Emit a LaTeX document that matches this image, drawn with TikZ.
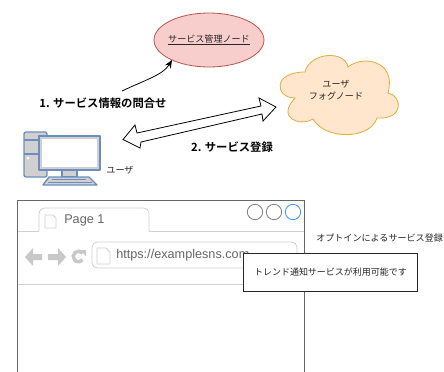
\documentclass[tikz,border=0pt]{standalone}
\usepackage{fontspec}
\usetikzlibrary{shapes.geometric,arrows.meta}
\setmainfont{Noto Sans CJK JP}
\newfontfamily\jpbold{Noto Sans CJK JP Bold}
\newfontfamily\latin{Liberation Sans}
\definecolor{chrome}{HTML}{666666}
\definecolor{lightc}{HTML}{D0D0D0}
\definecolor{iconc}{HTML}{C8C8C8}
\definecolor{pcblue}{HTML}{6C8EBF}
\definecolor{mgrfill}{HTML}{F8CECC}
\definecolor{mgrline}{HTML}{B85450}
\definecolor{cloudfill}{HTML}{FFE6CC}
\definecolor{cloudline}{HTML}{E0AC40}
\tikzset{
  lbl/.style={inner sep=0pt,font=\fontsize{6.8}{9}\selectfont,text=black!85,align=center},
  boldlbl/.style={inner sep=0pt,font=\jpbold\fontsize{8.5}{10}\selectfont,text=black},
  pcpart/.style={draw=pcblue,fill=lightc,line width=1pt,line join=round},
  winbtn/.style={circle,draw=gray,line width=0.6pt,fill=white,minimum size=11.5pt,inner sep=0pt},
  chromeline/.style={draw=lightc,line width=0.6pt},
  icon/.style={fill=iconc,draw=none},
  pageicon/.style={draw=lightc,line width=0.6pt,fill=white,line join=round},
}
\begin{document}
\begin{tikzpicture}[x=0.75pt,y=-0.75pt]
\useasboundingbox (0,0) rectangle (444,372);
% ellipse
\node[ellipse,fill=mgrfill,draw=mgrline,line width=0.6pt,minimum width=82.5pt,minimum height=40.5pt,inner sep=-4pt,font=\fontsize{6.8}{9}\selectfont,text=black!85] (mgr) at (209,40) {\underline{サービス管理ノード}};
% query arrow
\coordinate (qs) at (122,91);
\coordinate (qe) at (172,60);
\draw[line width=0.6pt,-{Stealth[length=6pt,width=5pt]}] (qs) .. controls (145,80) and (163,75) .. (qe);
\node[boldlbl] (q1) at (103,103) {1. サービス情報の問合せ};
% double arrow
\draw[line width=0.6pt,fill=white,line join=miter]
 (123,139.5) -- (135,125) -- (137,133) -- (261,106) -- (259,98) -- (276,107) -- (263,121) -- (262,114) -- (141,142) -- (140,148) -- cycle;
\node[boldlbl] (q2) at (232,147) {2. サービス登録};
% cloud
\draw[fill=cloudfill,draw=cloudline,line width=0.6pt]
 (305,72) .. controls (310,52) and (345,50) .. (348,67)
 .. controls (362,55) and (397,60) .. (388,93)
 .. controls (402,95) and (405,120) .. (377,118)
 .. controls (370,140) and (325,140) .. (313,119)
 .. controls (300,127) and (276,118) .. (295,98)
 .. controls (275,98) and (272,72) .. (305,72) -- cycle;
\node[lbl] (fog) at (336,90) {ユーザ\\フォグノード};
% computer
\draw[pcpart,rounded corners=1.5pt] (24,132) rectangle (47,177);
\draw[pcblue,line width=1pt] (24,140) -- (47,140) (24,154) -- (47,154);
\fill[white] (28,158) circle (1.5);
\draw[pcpart] (62,170) rectangle (77,177);
\draw[pcpart] (49,177) -- (89,177) -- (97,185) -- (43,185) -- cycle;
\draw[pcblue,line width=0.5pt] (52,179.5) -- (86,179.5) (48,182.5) -- (92,182.5);
\draw[pcpart] (39,136) rectangle (100,170);
\fill[white] (42,139) rectangle (97,167);
\node[lbl] (usr) at (120,170) {ユーザ};
% browser
\draw[chromeline] (17,231) -- (39,231) (149,231) -- (304,231);
\draw[chromeline,rounded corners=4pt] (39,231) -- (39,208) -- (149,208) -- (149,231);
\draw[chromeline] (17,284) -- (304,284);
\draw[chromeline,rounded corners=4pt,fill=white] (92,242) rectangle (297,268);
\draw[chrome,line width=0.6pt] (17,372) -- (17,200) -- (304,200) -- (304,372);
% tab page icon
\draw[pageicon] (45,215) -- (53,215) -- (56,218) -- (56,228) -- (45,228) -- cycle;
\node[anchor=west,inner sep=0pt,font=\latin\fontsize{9.5}{12}\selectfont,text=chrome] (pg) at (64,220) {Page 1};
% nav icons
\fill[icon] (25,257) -- (33,248) -- (33,254) -- (42,254) -- (42,260) -- (33,260) -- (33,266) -- cycle;
\fill[icon] (66,257) -- (58,248) -- (58,254) -- (48,254) -- (48,260) -- (58,260) -- (58,266) -- cycle;
\draw[iconc,line width=2.6pt] (82.6,253.1) arc[start angle=-40,end angle=-320,radius=5.3];
\fill[icon] (80,250) -- (86,250) -- (86,256) -- cycle;
% url
\draw[pageicon] (97,248) -- (106,248) -- (110,252) -- (110,264) -- (97,264) -- cycle;
\node[anchor=west,inner sep=0pt,font=\latin\fontsize{9.5}{12}\selectfont,text=chrome] (url) at (116,255) {https://examplesns.com};
% window buttons
\node[winbtn] (b1) at (255,212) {};
\node[winbtn] (b2) at (274,212) {};
\node[winbtn,draw={rgb,255:red,51;green,153;blue,255}] (b3) at (293,212) {};
% notification
\node[draw=black!85,fill=white,line width=0.6pt,minimum width=131pt,minimum height=28.5pt,inner sep=0pt,font=\fontsize{6.75}{8}\selectfont,text=black!85] (note) at (330.5,272) {トレンド通知サービスが利用可能です};
\node[lbl,anchor=west] (opt) at (316,238.5) {オプトインによるサービス登録};
\end{tikzpicture}
\end{document}
